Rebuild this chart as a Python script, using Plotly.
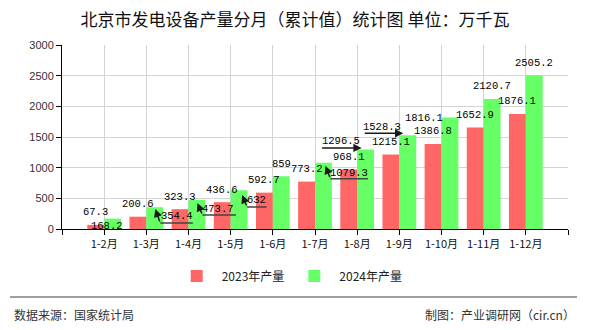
import plotly.graph_objects as go

# ---- data -------------------------------------------------------------
months = ["1-2月", "1-3月", "1-4月", "1-5月", "1-6月", "1-7月",
          "1-8月", "1-9月", "1-10月", "1-11月", "1-12月"]
output_2023 = [67.3, 200.6, 323.3, 436.6, 592.7, 773.2,
               968.1, 1215.1, 1386.8, 1652.9, 1876.1]
output_2024 = [168.2, 354.4, 473.7, 632, 859, 1079.3,
               1296.5, 1528.3, 1816.1, 2120.7, 2505.2]
series_names = ["2023年产量", "2024年产量"]
y_ticks = [0, 500, 1000, 1500, 2000, 2500, 3000]

# ---- style ------------------------------------------------------------
RED = "#ff6666"
GREEN = "#66ff66"
GRID = "#d4d4d4"
LABEL_FONT = dict(family="Liberation Mono", size=10.5, color="#000")
CJK = "Noto Sans CJK SC"
HALF = 0.2          # offset of each bar from its category centre
LABEL_LIFT = 12.5   # px from bar top to label centre

# Placement of the crowded 2024 labels, in px relative to the bar top
# (dx to the right, dy upwards). "tip" is the arrow head, "elbow" the bend
# of the leader line measured from the tip, "run" its horizontal length.
callouts = {
    0: dict(text=(-5.5, -7.5)),
    1: dict(text=(22.5, -8.7), tip=(0.5, -1.7), elbow=(5, -14), run=34),
    2: dict(text=(21.3, -9.0), tip=(0.5, -3.0), elbow=(5, -12), run=35),
    3: dict(text=(17.0, -9.7), tip=(3.0, -4.7), elbow=(5, -12), run=21),
    5: dict(text=(25.5, -9.7), tip=(2.0, -3.0), elbow=(5, -13), run=39),
    6: dict(text=(-25.0, 8.5), tip=(-4.0, 1.5), run=-41),
    7: dict(text=(-25.5, 8.3), tip=(-4.5, 2.0), run=-40),
    8: dict(text=(-26.3, 0.0)),
}

pos = list(range(len(months)))

fig = go.Figure()
fig.add_bar(x=pos, y=output_2023, name=series_names[0],
            marker=dict(color=RED, line=dict(width=0)))
fig.add_bar(x=pos, y=output_2024, name=series_names[1],
            marker=dict(color=GREEN, line=dict(width=0)))


def fmt(v):
    return f"{v:g}"


annotations = []
for i, v in enumerate(output_2023):
    annotations.append(dict(x=i - HALF, y=v, xref="x", yref="y",
                            text=fmt(v), showarrow=False, font=LABEL_FONT,
                            yshift=LABEL_LIFT, yanchor="middle"))

head = dict(arrowcolor="#1a1a1a", arrowwidth=1.5, arrowsize=1.1, arrowhead=2)
leg = dict(arrowcolor="#444", arrowwidth=1.5, arrowsize=1, arrowhead=0)

for i, v in enumerate(output_2024):
    c = callouts.get(i)
    if c is None:
        annotations.append(dict(x=i + HALF, y=v, xref="x", yref="y",
                                text=fmt(v), showarrow=False, font=LABEL_FONT,
                                yshift=LABEL_LIFT, yanchor="middle"))
        continue
    tx, ty = c["text"]
    annotations.append(dict(x=i + HALF, y=v, xref="x", yref="y",
                            text=fmt(v), showarrow=False, font=LABEL_FONT,
                            xshift=tx, yshift=ty, yanchor="middle"))
    if "tip" not in c:
        continue
    px, py = c["tip"]
    if "elbow" in c:
        ex, ey = c["elbow"]
        # horizontal underline
        annotations.append(dict(x=i + HALF, y=v, xref="x", yref="y", text="",
                                showarrow=True, ax=c["run"], ay=0,
                                xshift=px + ex, yshift=py + ey, **leg))
        # slanted leg ending in the arrow head
        annotations.append(dict(x=i + HALF, y=v, xref="x", yref="y", text="",
                                showarrow=True, ax=ex, ay=-ey,
                                xshift=px, yshift=py, **head))
    else:
        annotations.append(dict(x=i + HALF, y=v, xref="x", yref="y", text="",
                                showarrow=True, ax=c["run"], ay=0,
                                xshift=px, yshift=py, **head))

# footer
annotations += [
    dict(xref="paper", yref="paper", x=-0.0988, y=-0.467, xanchor="left",
         yanchor="middle", text="数据来源：国家统计局", showarrow=False,
         font=dict(family=CJK, size=12, color="#333")),
    dict(xref="paper", yref="paper", x=1.0168, y=-0.467, xanchor="right",
         yanchor="middle", text="制图：产业调研网（cir.cn）", showarrow=False,
         font=dict(family=CJK, size=12, color="#333")),
]

fig.update_layout(
    width=590, height=330,
    margin=dict(l=62, r=22, t=45, b=101, autoexpand=False),
    paper_bgcolor="white", plot_bgcolor="white",
    barmode="group", bargap=0.2, bargroupgap=0,
    title=dict(text="北京市发电设备产量分月（累计值）统计图 单位：万千瓦",
               x=(295 - 62) / 506, xref="paper", xanchor="center",
               y=1 - 20 / 330, yref="container", yanchor="middle",
               font=dict(family=CJK, size=17, color="#111")),
    legend=dict(orientation="h", x=0.45, xanchor="center", y=-0.255,
                yanchor="middle", font=dict(family=CJK, size=12, color="#222"),
                bgcolor="rgba(0,0,0,0)", itemwidth=40),
    annotations=annotations,
    shapes=[dict(type="line", xref="paper", yref="paper",
                 x0=-0.1028, x1=1.0178, y0=-0.3696, y1=-0.3696,
                 line=dict(color="#808080", width=1.5))],
    showlegend=True,
)

fig.update_xaxes(
    range=[-1, len(months)],
    tickmode="array",
    tickvals=[-1] + pos + [len(months)],
    ticktext=[""] + months + [""],
    ticks="outside", ticklen=5, tickcolor="#000",
    showline=True, linecolor="#000", linewidth=1,
    showgrid=True, gridcolor=GRID, gridwidth=1, zeroline=False,
    tickfont=dict(family=CJK, size=11, color="#111"),
)
fig.update_yaxes(
    range=[0, 3000], tickmode="array", tickvals=y_ticks,
    ticks="outside", ticklen=5, tickcolor="#000",
    showline=True, linecolor="#000", linewidth=1,
    showgrid=True, gridcolor=GRID, gridwidth=1, zeroline=False,
    tickfont=dict(family="Liberation Sans", size=11, color="#333"),
)

fig.write_html("out.html")
